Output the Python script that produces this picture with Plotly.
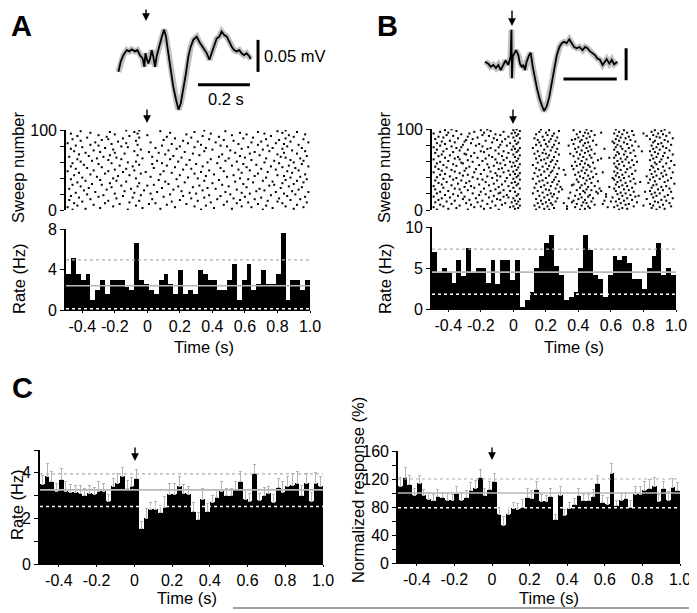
import numpy as np
import plotly.graph_objects as go

# the page puts the plot 8 px in from the top-left corner (body margin),
# so the figure is drawn 8 px smaller and every position is given in window pixels
W, H = 697, 613
OFF = 8
FW, FH = W - OFF, H - OFF
FONT = "Liberation Sans, Arial, sans-serif"

# ---------------- data ----------------
# PSTH bins (s)
T0, T1 = -0.5, 1.0
AB_BIN = 0.03
C_BIN = 0.025

A_RATE = [3.6, 5.1, 3.6, 3.0, 3.6, 1.0, 2.0, 3.0, 1.6, 3.0,
          3.0, 3.0, 2.3, 2.0, 6.6, 3.0, 2.6, 2.0, 1.6, 3.0,
          3.6, 2.6, 1.6, 4.0, 1.6, 2.0, 1.6, 4.0, 3.6, 3.0,
          3.0, 2.0, 2.0, 3.0, 4.5, 1.0, 3.0, 4.5, 2.0, 2.6,
          4.0, 2.6, 2.6, 3.6, 7.6, 1.0, 3.0, 3.0, 2.0, 3.0]
A_LINES = {"mean": 2.4, "upper": 4.95, "lower": 0.12}

B_RATE = [7.0, 4.4, 5.0, 4.4, 3.2, 6.0, 4.0, 7.5, 4.4, 5.0,
          5.0, 3.2, 6.0, 3.0, 6.0, 6.0, 3.5, 6.0, 0.2, 1.1,
          2.1, 5.0, 6.5, 8.0, 9.0, 5.2, 4.2, 1.1, 1.5, 2.1,
          5.0, 9.0, 7.2, 4.2, 3.6, 1.5, 4.2, 6.5, 6.0, 6.5,
          5.6, 3.6, 3.6, 2.5, 5.0, 6.5, 8.0, 4.2, 5.0, 4.1]
B_LINES = {"mean": 4.5, "upper": 7.3, "lower": 1.8}

C_RATE = [3.5, 3.85, 3.6, 3.2, 3.7, 3.2, 3.15, 3.15, 3.1, 3.0,
          3.1, 3.05, 3.2, 3.2, 2.75, 3.4, 3.55, 3.85, 3.3, 3.4,
          3.75, 1.55, 2.0, 2.4, 2.4, 2.25, 2.5, 3.05, 3.05, 3.4,
          3.1, 3.05, 2.3, 1.95, 2.85, 2.3, 2.7, 2.9, 3.2, 3.0,
          3.0, 3.25, 3.6, 2.85, 2.75, 3.95, 2.8, 3.0, 3.1, 2.7,
          3.35, 3.15, 3.4, 3.45, 3.55, 3.0, 3.55, 2.75, 3.55, 3.4]
C_RATE_ERR = [0.4, 0.55, 0.45, 0.35, 0.5, 0.4, 0.35, 0.3, 0.35, 0.3,
              0.35, 0.3, 0.4, 0.35, 0.3, 0.35, 0.4, 0.4, 0.35, 0.4,
              0.4, 0.3, 0.45, 0.3, 0.35, 0.3, 0.45, 0.5, 0.5, 0.45,
              0.4, 0.35, 0.4, 0.3, 0.45, 0.35, 0.3, 0.35, 0.4, 0.3,
              0.3, 0.35, 0.45, 0.4, 0.35, 0.4, 0.3, 0.35, 0.3, 0.35,
              0.4, 0.45, 0.45, 0.5, 0.5, 0.45, 0.4, 0.4, 0.45, 0.45]
C_RATE_LINES = {"mean": 3.25, "upper": 3.95, "lower": 2.52}

C_NORM = [110, 122, 112, 97, 114, 97, 91, 89, 95, 93,
          90, 90, 99, 90, 93, 103, 107, 122, 96, 105,
          116, 70, 54, 70, 78, 77, 80, 93, 92, 105,
          88, 88, 95, 62, 97, 68, 78, 83, 96, 89,
          89, 95, 113, 86, 84, 128, 82, 90, 92, 79,
          98, 98, 104, 106, 110, 88, 106, 90, 108, 103]
C_NORM_ERR = [12, 15, 13, 9, 11, 8, 10, 9, 10, 8,
              9, 8, 11, 9, 10, 12, 11, 12, 10, 11,
              12, 9, 12, 10, 9, 8, 11, 13, 12, 12,
              10, 9, 11, 8, 12, 9, 8, 9, 10, 9,
              9, 10, 12, 10, 9, 14, 8, 10, 9, 10,
              11, 12, 12, 13, 12, 10, 11, 12, 13, 12]
C_NORM_LINES = {"mean": 100, "upper": 120, "lower": 79}

# average waveforms: time (ms), amplitude (uV)
WAVE_A_MS = [-105, -96, -86, -73, -63, -54, -41, -32, -22, -12,
             -5, -1, 4, 10, 17, 23, 29, 36, 42, 53,
             62, 71, 78, 87, 96, 106, 117, 126, 135, 145,
             155, 164, 173, 183, 196, 206, 215, 224, 235, 245,
             254, 263, 273, 283, 292, 301, 312, 322, 331, 340,
             350, 360, 369, 378, 388, 399, 404]
WAVE_A_UV = [-29, -13, -3, 5, 3, 6, 3, 5, -3, -8,
             -21, 0, -8, -16, -8, 5, -5, -21, -5, 13,
             26, 37, 26, 0, -26, -52, -73, -88, -78, -57,
             -31, -5, 10, 21, 26, 18, 13, 8, 0, -10,
             0, 13, 23, 26, 34, 29, 26, 18, 10, 5,
             3, 5, 0, -3, 0, -5, -9]
WAVE_B_MS = [-100, -88, -79, -69, -59, -50, -41, -31, -23, -13,
             -4, -1, 1, 4, 9, 16, 25, 31, 38, 44,
             50, 56, 65, 71, 79, 88, 96, 106, 116, 121,
             131, 141, 150, 159, 169, 179, 188, 196, 206, 216,
             225, 234, 244, 254, 266, 275, 284, 294, 304, 313,
             321, 331, 341, 350, 356, 366, 375, 384, 396]
WAVE_B_UV = [0, -3, -8, -5, -10, -5, -13, -3, 2, -5,
             8, 50, -26, 8, 13, 18, 10, -3, -8, -5,
             -13, 0, 10, 14, -8, -29, -44, -60, -73, -77,
             -70, -55, -34, -10, 10, 23, 29, 31, 29, 35,
             29, 23, 21, 23, 18, 23, 21, 16, 13, 10,
             5, 3, -5, 0, 4, -3, 3, -4, 0]
SCALE_T = 0.2   # s
SCALE_V = 50    # uV

# rasters: one line per sweep, spike times in units of 10 ms
RASTER_A = """
-46 -12 33 71
-38 8 52 90
-29 -3 41 77
-49 17 64 96
-21 29 58 85
-43 -7 36 73
-33 12 47 92
-17 1 24 68
-45 -26 5 55 83
-11 39 62 98
-40 15 49 80
-24 -5 31 74
-48 20 57 88
-35 3 43 66 94
-19 27 53 81
-42 -9 35 70
-30 10 60 97
-47 -15 22 45 86
-27 -4 38 76
-37 14 51 91
-20 2 30 63 84
-44 -8 26 58
-32 6 48 79 99
-14 21 67 89
-39 -2 34 72
-25 16 55 93
-48 -10 42 69
-36 9 37 82
-22 28 61 95
-41 -6 19 50 87
-16 0 32 75
-46 -28 4 46 78
-34 13 59 90
-23 -5 40 83
-43 23 65 96
-13 11 54 77
-38 -19 35 71 92
-29 7 44 85
-47 18 62 98
-21 -7 31 57
-40 25 73 88
-31 2 49 94
-18 36 66 84
-45 -11 20 53 80
-35 8 41 97
-26 -4 29 68
-42 15 58 89
-15 -1 33 74
-49 -24 10 47 86
-33 -8 38 63 93
-20 22 56 79
-44 -13 27 70
-37 4 45 91
-28 17 61 83
-47 -9 34 76 99
-17 12 52 87
-39 -5 24 67
-30 3 30 59 95
-46 -22 9 43 81
-12 37 72 90
-41 -7 19 55
-34 6 48 78 96
-24 26 64 88
-43 -16 14 39
-31 -3 50 73 94
-19 21 60 85
-48 -27 3 44 82
-36 16 57 98
-23 -6 32 69
-42 11 46 80
-14 28 63 92
-38 -20 7 54 84
-29 1 23 66
-45 -8 35 75 97
-33 13 51 89
-21 -4 40 71
-47 18 58 83
-26 5 36 77 95
-40 -12 29 62
-16 20 49 86
-44 -30 9 45 74
-35 -6 33 68 93
-22 15 56 84
-49 -13 25 79
-32 2 42 64 99
-18 31 70 88
-41 -7 22 53
-28 10 47 81
-46 -24 38 73 96
-15 17 59 85
-37 -5 27 65
-25 12 44 90
-43 -11 34 76
-30 0 52 87
-20 24 61 97
-47 -6 39 72
-35 14 57 83
-23 -8 29 68 92
-41 8 48 80
-13 -5 35 85
"""

RASTER_B = """
-47 -28 -9 14 22 41 65 88
-40 -18 1 19 33 44 70 93
-35 -14 3 25 47 67 85
-49 -24 -2 16 38 58 62 90
-43 -20 0 21 33 46 74 97
-33 -11 4 13 42 64 80 86
-45 -26 -7 24 50 69 92
-38 -16 2 18 39 55 71 84
-29 -5 15 23 31 45 66 96
-48 -22 -1 20 36 43 76 89
-41 -13 3 26 48 60 63 87
-36 -19 1 17 37 56 68 94
-46 -27 -8 22 44 73 91
-31 -10 4 14 40 65 82
-44 -23 0 27 34 49 70 98
-39 -15 -3 19 42 61 86
-49 -30 -6 24 46 57 75 93
-34 -12 2 16 38 67 77 88
-42 -21 -4 21 47 72 95
-37 -17 3 25 41 57 64 85
-47 -25 -9 12 23 52 69 90
-32 -8 18 35 44 66 87
-45 -20 1 28 51 74 81 97
-40 -14 -2 15 43 54 63 84
-28 -6 22 39 48 71 92
-48 -33 -11 20 30 45 68 89
-36 -18 4 26 53 62 96
-43 -24 0 13 41 73 85
-30 -9 17 29 46 59 65 91
-49 -26 -3 23 50 70 94
-38 -15 2 19 36 42 67 86
-44 -21 -7 27 37 63 88
-34 -12 3 14 44 75 99
-46 -29 -1 21 48 69 83
-41 -17 1 24 40 64 78 93
-27 -5 16 28 52 72 87
-48 -32 -10 18 45 66 95
-37 -19 4 25 39 62 84
-43 -22 0 12 47 74 90
-35 -13 -4 20 43 61 68 97
-47 -25 2 26 49 65 86
-39 -16 -8 15 41 71 82 92
-31 -10 3 22 46 63 88
-45 -28 -2 17 32 38 67 94
-42 -20 1 27 51 73 85
-33 -11 4 13 44 64 91
-49 -24 -6 23 40 55 69 98
-36 -14 0 19 48 62 87
-44 -30 -3 24 42 75 93
-38 -18 2 16 31 45 66 84
-46 -23 -9 21 37 70 89
-29 -7 14 28 50 64 96
-41 -15 3 25 43 72 86
-48 -27 -1 18 47 63 92
-35 -12 1 22 36 39 68 85
-43 -21 -5 12 46 74 99
-37 -16 4 26 41 65 88
-47 -31 -8 20 44 62 94
-32 -10 0 15 49 71 87
-45 -25 -2 23 38 67 76 90
-40 -19 2 27 42 64 97
-28 -6 17 24 52 73 84
-49 -33 -11 19 45 69 91
-36 -17 3 14 40 54 66 86
-42 -22 -4 21 48 59 62 95
-34 -13 1 25 43 70 88
-46 -26 -7 16 37 75 92
-39 -15 4 22 47 63 85
-44 -29 0 28 41 68 98
-30 -9 13 20 35 50 65 89
-48 -24 -3 18 44 72 93
-37 -18 2 26 39 64 87
-43 -20 -6 15 46 69 79 84
-33 -11 3 23 42 74 96
-47 -28 -1 19 48 62 90
-41 -16 1 27 38 56 67 86
-35 -14 4 12 45 71 94
-49 -32 -9 24 40 63 88
-38 -19 0 21 47 66 77 92
-45 -23 -4 17 34 43 73 85
-31 -8 14 25 51 64 97
-42 -21 2 20 37 70 89
-47 -26 -2 28 44 62 91
-36 -13 3 16 46 68 86
-44 -30 -7 22 41 61 75 95
-39 -17 1 26 49 65 87
-29 -10 15 19 36 42 72 93
-48 -25 -5 23 38 63 84
-34 -12 4 13 45 69 98
-43 -22 0 27 40 66 90
-46 -28 -3 18 47 71 88
-37 -15 2 24 43 64 82 94
-41 -19 -8 21 50 74 86
-32 -11 3 14 39 67 92
-49 -27 -1 25 46 62 80 89
-40 -18 1 20 44 54 70 96
-45 -24 -6 16 41 65 85
-35 -14 4 28 48 73 91
-42 -20 0 22 37 68 87
-38 -16 2 17 45 63 93
"""


def parse_raster(txt):
    xs, ys = [], []
    rows = [r for r in txt.strip().splitlines() if r.strip()]
    for i, r in enumerate(rows):
        for v in r.split():
            xs.append(int(v) / 100.0)
            ys.append(i + 0.5)
    return xs, ys


def centers(n, w):
    return [round(T0 + w * (i + 0.5), 4) for i in range(n)]


# ---------------- pixel helpers (window pixels -> paper) ----------------
def px(x):
    return (x - OFF) / FW


def py(y):
    return 1 - (y - OFF) / FH


def dx(a, b):
    return [max(px(a), 0), min(px(b), 1)]


def dy(top, bottom):
    return [max(py(bottom), 0), min(py(top), 1)]


fig = go.Figure()

# waveform panel geometry (window pixels)
WA = dict(x0=110, x1=345, y0=OFF, y1=125, t0px=145.7, pps=260.0, v0px=53.3, ppu=0.64)
WB = dict(x0=470, x1=W, y0=OFF, y1=125, t0px=511.7, pps=266.7, v0px=61.7, ppu=0.64)


def wave_ranges(g):
    xr = [(g["x0"] - g["t0px"]) / g["pps"], (g["x1"] - g["t0px"]) / g["pps"]]
    yr = [(g["v0px"] - g["y1"]) / g["ppu"], (g["v0px"] - g["y0"]) / g["ppu"]]
    return xr, yr


def add_wave(ms, uv, xa, ya):
    t = [m / 1000.0 for m in ms]
    fig.add_trace(go.Scatter(x=t, y=uv, mode="lines", xaxis=xa, yaxis=ya,
                             line=dict(color="rgba(150,150,150,0.6)", width=6),
                             hoverinfo="skip"))
    fig.add_trace(go.Scatter(x=t, y=uv, mode="lines", xaxis=xa, yaxis=ya,
                             line=dict(color="black", width=1.8)))


add_wave(WAVE_A_MS, WAVE_A_UV, "x", "y")
add_wave(WAVE_B_MS, WAVE_B_UV, "x4", "y4")

# rasters
for txt, xa, ya in [(RASTER_A, "x2", "y2"), (RASTER_B, "x5", "y5")]:
    rx, ry = parse_raster(txt)
    fig.add_trace(go.Scatter(x=rx, y=ry, mode="markers", xaxis=xa, yaxis=ya,
                             marker=dict(color="black", size=2, symbol="square")))

# PSTHs
fig.add_trace(go.Bar(x=centers(len(A_RATE), AB_BIN), y=A_RATE, width=AB_BIN,
                     marker=dict(color="black", line=dict(width=0)), xaxis="x3", yaxis="y3"))
fig.add_trace(go.Bar(x=centers(len(B_RATE), AB_BIN), y=B_RATE, width=AB_BIN,
                     marker=dict(color="black", line=dict(width=0)), xaxis="x6", yaxis="y6"))
for vals, err, xa, ya in [(C_RATE, C_RATE_ERR, "x7", "y7"), (C_NORM, C_NORM_ERR, "x8", "y8")]:
    fig.add_trace(go.Bar(x=centers(len(vals), C_BIN), y=vals, width=C_BIN,
                         marker=dict(color="black", line=dict(width=0)),
                         error_y=dict(type="data", symmetric=False, array=err,
                                      arrayminus=[0] * len(err), color="#b4b4b4",
                                      thickness=1, width=1.5),
                         xaxis=xa, yaxis=ya))

shapes = []
# mean / threshold lines
for lines, xr, yr in [(A_LINES, "x3", "y3"), (B_LINES, "x6", "y6"),
                      (C_RATE_LINES, "x7", "y7"), (C_NORM_LINES, "x8", "y8")]:
    shapes.append(dict(type="line", xref=xr, yref=yr, x0=T0, x1=T1, y0=lines["mean"], y1=lines["mean"],
                       line=dict(color="#b8b8b8", width=1.6)))
    shapes.append(dict(type="line", xref=xr, yref=yr, x0=T0, x1=T1, y0=lines["upper"], y1=lines["upper"],
                       line=dict(color="#b0b0b0", width=1.2, dash="dot")))
    shapes.append(dict(type="line", xref=xr, yref=yr, x0=T0, x1=T1, y0=lines["lower"], y1=lines["lower"],
                       line=dict(color="white", width=1.6, dash="dot")))

# scale bars
shapes.append(dict(type="line", xref="x", yref="y", x0=0.432, x1=0.432, y0=-29, y1=-29 + SCALE_V,
                   line=dict(color="black", width=3)))
shapes.append(dict(type="line", xref="x", yref="y", x0=0.201, x1=0.201 + SCALE_T, y0=-49, y1=-49,
                   line=dict(color="black", width=3)))
shapes.append(dict(type="line", xref="x4", yref="y4", x0=0.429, x1=0.429, y0=-29, y1=-29 + SCALE_V,
                   line=dict(color="black", width=3)))
shapes.append(dict(type="line", xref="x4", yref="y4", x0=0.194, x1=0.194 + SCALE_T, y0=-27, y1=-27,
                   line=dict(color="black", width=3)))
# bottom rule
shapes.append(dict(type="line", xref="paper", yref="paper", x0=px(233), x1=1, y0=py(608), y1=py(608),
                   line=dict(color="#808080", width=1.5)))

ann = []


def text(x, y, s, size=16.5, angle=0, bold=False, xanchor="center", yanchor="middle"):
    ann.append(dict(x=px(x), y=py(y), xref="paper", yref="paper", text=s, showarrow=False,
                    textangle=angle, xanchor=xanchor, yanchor=yanchor,
                    font=dict(family=FONT, size=size, color="black",
                              weight="bold" if bold else "normal")))


def arrow(x, tail, tip):
    ann.append(dict(x=px(x), y=py(tip), xref="paper", yref="paper", ax=0, ay=-(tip - tail),
                    text="", showarrow=True, arrowhead=2, arrowsize=1.1, arrowwidth=1.4,
                    arrowcolor="black", standoff=0))


text(21, OFF + 0.5, "A", size=29, bold=True, yanchor="top")
text(387, OFF + 0.5, "B", size=29, bold=True, yanchor="top")
text(22, 388, "C", size=29, bold=True)
text(262, 56, "0.05 mV", xanchor="left")
text(226, 99, "0.2 s")
text(18, 168, "Sweep number", angle=-90)
text(384, 168, "Sweep number", angle=-90)
text(19, 279, "Rate (Hz)", angle=-90)
text(385, 279, "Rate (Hz)", angle=-90)
text(204, 347, "Time (s)")
text(574, 347, "Time (s)")
text(17, 505, "Rate (Hz)", angle=-90)
text(358, 490, "Normalized response (%)", angle=-90)
text(187, 598, "Time (s)")
text(549, 598, "Time (s)")

arrow(146, 6, 21)
arrow(147, 108, 123)
arrow(512, 9, 26)
arrow(513, 108, 124)
arrow(135, 446, 461)
arrow(492, 446, 460)

tick_t = [-0.4, -0.2, 0, 0.2, 0.4, 0.6, 0.8, 1.0]
tick_t_txt = ["-0.4", "-0.2", "0", "0.2", "0.4", "0.6", "0.8", "1.0"]
tfont = dict(family=FONT, size=16, color="black")

hidden = dict(visible=False, showgrid=False, zeroline=False, fixedrange=True, automargin=False)


def time_axis(dom, anchor):
    return dict(domain=dom, anchor=anchor, range=[T0, T1], showgrid=False, zeroline=False,
                showline=True, linecolor="black", linewidth=1.2, ticks="outside", ticklen=2,
                tickcolor="black", tickvals=tick_t, ticktext=tick_t_txt, tickfont=tfont,
                automargin=False)


def val_axis(dom, anchor, rng, vals, labels):
    return dict(domain=dom, anchor=anchor, range=rng, showgrid=False, zeroline=False,
                showline=True, linecolor="black", linewidth=1.6, ticks="outside", ticklen=4,
                tickcolor="black", tickvals=vals, ticktext=labels, tickfont=tfont,
                automargin=False)


xa_r, ya_r = wave_ranges(WA)
xb_r, yb_r = wave_ranges(WB)

fig.update_layout(
    template="none",
    width=FW, height=FH, margin=dict(l=0, r=0, t=0, b=0, autoexpand=False),
    paper_bgcolor="white", plot_bgcolor="white", showlegend=False,
    bargap=0, font=dict(family=FONT, size=16, color="black"),
    xaxis=dict(hidden, domain=dx(WA["x0"], WA["x1"]), anchor="y", range=xa_r),
    yaxis=dict(hidden, domain=dy(WA["y0"], WA["y1"]), anchor="x", range=ya_r),
    xaxis4=dict(hidden, domain=dx(WB["x0"], WB["x1"]), anchor="y4", range=xb_r),
    yaxis4=dict(hidden, domain=dy(WB["y0"], WB["y1"]), anchor="x4", range=yb_r),
    xaxis2=dict(hidden, domain=dx(66, 310), anchor="y2", range=[T0, T1]),
    yaxis2=val_axis(dy(130, 210), "x2", [0, 100], [0, 20, 40, 60, 80, 100],
                    ["0", "", "", "", "", "100"]),
    xaxis5=dict(hidden, domain=dx(432, 676), anchor="y5", range=[T0, T1]),
    yaxis5=val_axis(dy(129, 210), "x5", [0, 100], [0, 20, 40, 60, 80, 100],
                    ["0", "", "", "", "", "100"]),
    xaxis3=time_axis(dx(66, 310), "y3"),
    yaxis3=val_axis(dy(229, 310), "x3", [0, 8], [0, 4, 8], ["0", "4", "8"]),
    xaxis6=time_axis(dx(432, 676), "y6"),
    yaxis6=val_axis(dy(227, 309), "x6", [0, 10], [0, 5, 10], ["0", "5", "10"]),
    xaxis7=time_axis(dx(40, 323), "y7"),
    yaxis7=val_axis(dy(450, 564), "x7", [0, 5], [0, 1, 2, 3, 4, 5], ["0", "", "2", "", "4", ""]),
    xaxis8=time_axis(dx(398, 680), "y8"),
    yaxis8=val_axis(dy(451, 563), "x8", [0, 160], list(range(0, 161, 20)),
                    ["0", "", "40", "", "80", "", "120", "", "160"]),
    shapes=shapes, annotations=ann,
)

fig.write_html("out.html")
